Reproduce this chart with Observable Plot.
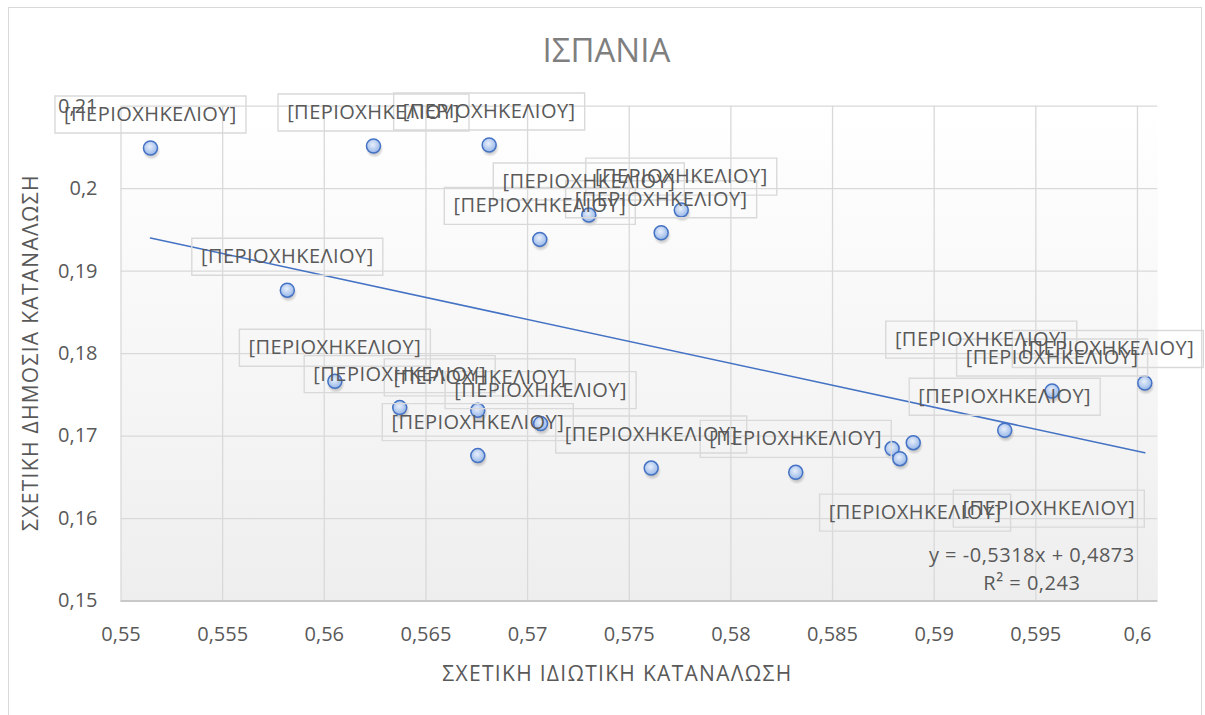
<!DOCTYPE html>
<html>
<head>
<meta charset="utf-8">
<script src="https://cdn.jsdelivr.net/npm/d3@7"></script>
<script src="https://cdn.jsdelivr.net/npm/@observablehq/plot@0.6"></script>
<style>
  html, body { margin: 0; padding: 0; background: #fff; overflow: hidden; }
  #wrap { position: relative; width: 1205px; height: 715px; }
  #border { position: absolute; left: 8px; top: 7px; width: 1194px; height: 720px;
            border: 1.5px solid #d9d9d9; pointer-events: none; box-sizing: border-box; }
</style>
</head>
<body>
<div id="wrap"><div id="border"></div></div>
<script>
// ---- data ----
const chartTitle = "ΙΣΠΑΝΙΑ";
const xTitle = "ΣΧΕΤΙΚΗ ΙΔΙΩΤΙΚΗ ΚΑΤΑΝΑΛΩΣΗ";
const yTitle = "ΣΧΕΤΙΚΗ ΔΗΜΟΣΙΑ ΚΑΤΑΝΑΛΩΣΗ";
const pointLabel = "[ΠΕΡΙΟΧΗΚΕΛΙΟΥ]";
const trendEquation = "y = -0,5318x + 0,4873";
const trendR2 = "R² = 0,243";

const xValues = [0.55145, 0.56242, 0.56811, 0.57301, 0.57756, 0.5706, 0.57657, 0.55818,
                 0.56052, 0.56371, 0.56755, 0.56755, 0.57064, 0.57608, 0.58319, 0.58793,
                 0.58831, 0.58897, 0.59347, 0.5958, 0.60036];
const yValues = [0.20493, 0.20517, 0.20529, 0.19680, 0.19740, 0.19385, 0.19465, 0.18769,
                 0.17664, 0.17345, 0.17312, 0.16763, 0.17151, 0.16612, 0.16560, 0.16848,
                 0.16726, 0.16920, 0.17070, 0.17547, 0.17644];
const xTicks = [0.55, 0.555, 0.56, 0.565, 0.57, 0.575, 0.58, 0.585, 0.59, 0.595, 0.6];
const yTicks = [0.15, 0.16, 0.17, 0.18, 0.19, 0.2, 0.21];

// ---- layout ----
const rows = xValues.map((x, i) => ({i, x, y: yValues[i], label: pointLabel}));
const special = {15: [23, 64], 16: [149, 50], 17: [68, -103], 20: [-37, -34], 10: [2, -33]};
const defaultShift = [0, -33.5];
const groups = [{rows: rows.filter(d => !(d.i in special)), dx: defaultShift[0], dy: defaultShift[1]}]
  .concat(Object.keys(special).map(k => ({rows: rows.filter(d => d.i === +k), dx: special[k][0], dy: special[k][1]})));

const fmt = d => String(d).replace(".", ",");
const boxSymbol = {draw(ctx) {
  ctx.moveTo(-95.5, -18.5); ctx.lineTo(95.5, -18.5); ctx.lineTo(95.5, 18.5); ctx.lineTo(-95.5, 18.5); ctx.closePath();
}};
const textColor = "#595959";
const font = "Open Sans";

const labelMarks = [];
for (const g of groups) {
  labelMarks.push(Plot.dot(g.rows, {x: "x", y: "y", symbol: boxSymbol, r: 5, fill: "none",
    stroke: "#d9d9d9", strokeWidth: 1.4, dx: g.dx, dy: g.dy}));
}
for (const g of groups) {
  labelMarks.push(Plot.text(g.rows, {x: "x", y: "y", text: "label", dx: g.dx, dy: g.dy,
    fill: textColor, fontSize: 20, fontFamily: font, lineAnchor: "middle"}));
}

const svg = Plot.plot({
  width: 1205, height: 715,
  marginLeft: 120.5, marginRight: 47.7, marginTop: 105.7, marginBottom: 114.5,
  style: {fontFamily: font, fontSize: "20px", color: textColor, background: "transparent"},
  x: {domain: [0.55, 0.601], ticks: xTicks, tickFormat: fmt, tickSize: 0, tickPadding: 25.5, label: null},
  y: {domain: [0.15, 0.21], ticks: yTicks, tickFormat: fmt, tickSize: 0, tickPadding: 23.5, label: null},
  marks: [
    Plot.frame({fill: "url(#plotBg)", stroke: "none"}),
    Plot.ruleX(xTicks, {stroke: "#d9d9d9", strokeWidth: 1.3}),
    Plot.ruleY(yTicks, {stroke: "#d9d9d9", strokeWidth: 1.3}),
    Plot.ruleY([yTicks[0]], {stroke: "#c8c8c8", strokeWidth: 1.8}),
    Plot.linearRegressionY(rows, {x: "x", y: "y", stroke: "#4472c4", strokeWidth: 1.5, ci: 0}),
    Plot.dot(rows, {x: "x", y: "y", r: 9, fill: "url(#shadowGrad)", stroke: "none", dx: 1, dy: 3}),
    Plot.dot(rows, {x: "x", y: "y", r: 7, fill: "url(#dotGrad)", stroke: "#4472c4", strokeWidth: 1.5}),
    ...labelMarks,
    Plot.text([trendEquation + "\n" + trendR2], {frameAnchor: "bottom-right", dx: -126, dy: -34,
      textAnchor: "middle", lineAnchor: "middle", lineHeight: 1.4, fontSize: 20, fontFamily: font, fill: textColor}),
    Plot.text([chartTitle], {frameAnchor: "top", dx: -33, dy: -54.7, lineAnchor: "middle",
      fontSize: 33, fontFamily: font, fill: "#7f7f7f"}),
    Plot.text([xTitle], {frameAnchor: "bottom", dx: -22, dy: 73.5, lineAnchor: "middle", textAnchor: "middle",
      fontSize: 21, fontFamily: font, fill: textColor}),
    Plot.text([yTitle], {frameAnchor: "left", dx: -89.5, dy: -1, rotate: -90, lineAnchor: "middle", textAnchor: "middle",
      fontSize: 21, fontFamily: font, fill: textColor})
  ]
});

d3.select(svg).insert("defs", ":first-child").html(`
  <linearGradient id="plotBg" x1="0" y1="0" x2="0" y2="1">
    <stop offset="0" stop-color="#ffffff"/><stop offset="1" stop-color="#eeeeee"/>
  </linearGradient>
  <radialGradient id="dotGrad" cx="0.45" cy="0.4" r="0.65">
    <stop offset="0" stop-color="#e8effb"/><stop offset="1" stop-color="#8fb1e6"/>
  </radialGradient>
  <radialGradient id="shadowGrad" cx="0.5" cy="0.5" r="0.5">
    <stop offset="0" stop-color="#000" stop-opacity="0.35"/>
    <stop offset="0.6" stop-color="#000" stop-opacity="0.18"/>
    <stop offset="1" stop-color="#000" stop-opacity="0"/>
  </radialGradient>`);

// letter spacing to approximate the original (Calibri) text widths
const spacing = new Map([[xTitle, "1.3px"], [yTitle, "1.3px"], [pointLabel, "0.45px"]]);
d3.select(svg).selectAll("text").each(function() {
  const t = this.textContent;
  if (spacing.has(t)) this.style.letterSpacing = spacing.get(t);
  else if (t.startsWith("y =")) this.style.letterSpacing = "0.5px";
});

svg.style.position = "absolute";
svg.style.left = "0";
svg.style.top = "0";
document.getElementById("wrap").insertBefore(svg, document.getElementById("border"));
</script>
</body>
</html>
